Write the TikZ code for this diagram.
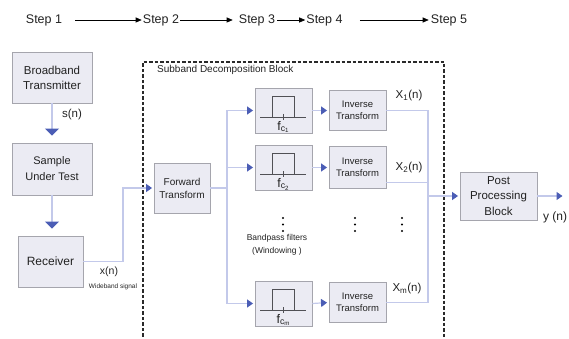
\documentclass[tikz,border=0pt]{standalone}
\usepackage{fontspec}
\setmainfont{Liberation Sans}
\usetikzlibrary{arrows.meta}
\definecolor{boxfill}{HTML}{EBEBF3}
\definecolor{boxdraw}{HTML}{A5A5AD}
\definecolor{connc}{HTML}{C3C9EA}
\definecolor{tipblue}{HTML}{4B5DB5}
\definecolor{dashc}{HTML}{2A2A2A}
\definecolor{symc}{HTML}{505055}
\definecolor{txtc}{HTML}{222222}
\tikzset{
  blk/.style={draw=boxdraw, fill=boxfill, line width=0.9pt, align=center, inner sep=0pt, text=txtc},
  conn/.style={draw=connc, line width=1.2pt},
  tipS/.style={-{Triangle[width=8pt,length=6pt,color=tipblue]}, shorten >=1.5pt},
  tipL/.style={-{Triangle[width=14pt,length=7pt,color=tipblue]}, shorten >=7pt},
  steparrow/.style={draw=black, line width=0.6pt, -{Triangle[width=5pt,length=6pt]}},
  steptxt/.style={inner sep=0pt, font=\fontsize{12.5}{15}\selectfont, text=txtc},
  lbl/.style={inner sep=0pt, text=txtc},
  flbl/.style={inner sep=0pt, text=txtc, font=\fontsize{12.5}{13}\selectfont},
  filt/.pic={
    \draw[symc, line width=0.8pt] (-23.5,6.5) -- (22.5,6.5);
    \draw[symc, line width=0.8pt] (-11.5,6.5) -- (-11.5,-14.5) -- (10.5,-14.5) -- (10.5,6.5);
    \draw[symc, line width=0.6pt] (0,3.5) -- (0,9.5);
  }
}
\begin{document}
\begin{tikzpicture}[x=1pt,y=-1pt]
\useasboundingbox (0,0) rectangle (569,339);

% steps
\node[steptxt] (s1) at (44,20) {Step 1};
\node[steptxt] (s2) at (161,20) {Step 2};
\node[steptxt] (s3) at (257,20) {Step 3};
\node[steptxt] (s4) at (324.5,20) {Step 4};
\node[steptxt] (s5) at (449,20) {Step 5};
\draw[steparrow, shorten <=13pt, shorten >=1pt] (s1) -- (s2);
\draw[steparrow, shorten <=1pt, shorten >=6pt] (s2) -- (s3);
\draw[steparrow, shorten <=2pt, shorten >=1pt] (s3) -- (s4);
\draw[steparrow, shorten <=17pt, shorten >=2pt] (s4) -- (s5);

% left column
\node[blk, minimum width=80, minimum height=51, font=\fontsize{11.5}{15}\selectfont] (bt) at (52,77.5) {Broadband\\Transmitter};
\node[blk, minimum width=80, minimum height=52, font=\fontsize{11}{16}\selectfont] (sut) at (52,169) {Sample\\Under Test};
\node[blk, minimum width=65, minimum height=51, font=\fontsize{12}{15}\selectfont] (rx) at (50.5,261.5) {Receiver};
\draw[conn, tipL] (bt) -- (sut);
\draw[conn, tipL] (sut.south) -- (sut.south |- rx.north);
\node[lbl, font=\fontsize{11.5}{14}\selectfont] (sn) at (72,115) {s(n)};

% dashed block
\draw[dashc, line width=1.3pt, dash pattern=on 3.5pt off 2pt] (143,342) -- (143,62) -- (444,62) -- (444,342);
\node[lbl, anchor=west, font=\fontsize{10}{12}\selectfont] (sdb) at (157,70) {Subband Decomposition Block};

% forward transform
\node[blk, minimum width=56, minimum height=50, font=\fontsize{10}{13}\selectfont] (fw) at (182,188) {Forward\\Transform};
\coordinate (bendA) at (123,0);
\draw[conn, tipS] (rx.east) -- (rx.east -| bendA) -- (bendA |- fw.west) -- (fw.west);
\node[lbl, font=\fontsize{10.5}{13}\selectfont] (xn) at (109,272) {x(n)};
\node[lbl, font=\fontsize{6.5}{8}\selectfont] (wb) at (113,287) {Wideband signal};

% filters
\node[blk, minimum width=57, minimum height=45] (f1) at (283.5,110.5) {};
\node[blk, minimum width=57, minimum height=45] (f2) at (283.5,167.5) {};
\node[blk, minimum width=57, minimum height=45] (fm) at (283.5,303.5) {};
\pic at (f1) {filt};
\pic at (f2) {filt};
\pic at (fm) {filt};
\node[flbl] (l1) at ([yshift=-16.5pt]f1.center) {f\textsubscript{c\textsubscript{1}}};
\node[flbl] (l2) at ([yshift=-16.5pt]f2.center) {f\textsubscript{c\textsubscript{2}}};
\node[flbl] (lm) at ([yshift=-16.5pt]fm.center) {f\textsubscript{c\textsubscript{m}}};

\coordinate (busL) at (227,0);
\draw[conn] (fw.east) -- (fw.east -| busL);
\draw[conn] (busL |- f1.west) -- (busL |- fm.west);
\draw[conn, tipS] (busL |- f1.west) -- (f1.west);
\draw[conn, tipS] (busL |- f2.west) -- (f2.west);
\draw[conn, tipS] (busL |- fm.west) -- (fm.west);

% inverse transforms
\node[blk, minimum width=57, minimum height=40, font=\fontsize{9.5}{12}\selectfont] (i1) at (357.5,110.5) {Inverse\\Transform};
\node[blk, minimum width=57, minimum height=42, font=\fontsize{9.5}{12}\selectfont] (i2) at (357.5,167.5) {Inverse\\Transform};
\node[blk, minimum width=57, minimum height=40, font=\fontsize{9.5}{12}\selectfont] (i3) at (357.5,302.5) {Inverse\\Transform};
\draw[conn, tipS] (f1.east) -- (i1.west);
\draw[conn, tipS] (f2.east) -- (i2.west);
\draw[conn, tipS] (fm.east) -- (i3.west);

% dots
\foreach \xx in {283,355,402}{
  \fill[black] (\xx,218) circle (1.2pt);
  \fill[black] (\xx,224.5) circle (1.2pt);
  \fill[black] (\xx,231) circle (1.2pt);
}
\node[lbl, font=\fontsize{8.5}{10}\selectfont] (bpf) at (277,238) {Bandpass filters};
\node[lbl, font=\fontsize{8.5}{10}\selectfont] (win) at (277,251) {(Windowing )};

% outputs
\coordinate (busR) at (428,0);
\coordinate (o2) at ([yshift=-15pt]i2.east);
\draw[conn] (i1.east) -- (i1.east -| busR);
\draw[conn] (o2) -- (o2 -| busR);
\draw[conn] (i3.east) -- (i3.east -| busR);
\draw[conn] (busR |- i1.east) -- (busR |- i3.east);
\node[lbl, font=\fontsize{11.5}{14}\selectfont] (x1) at (409,96) {X\textsubscript{1}(n)};
\node[lbl, font=\fontsize{11.5}{14}\selectfont] (x2) at (409,168) {X\textsubscript{2}(n)};
\node[lbl, font=\fontsize{11.5}{14}\selectfont] (xm) at (407,289) {X\textsubscript{m}(n)};

% post processing
\node[blk, minimum width=77, minimum height=48, font=\fontsize{11.5}{15.5}\selectfont] (pp) at (498.5,196) {Post\\Processing\\Block};
\draw[conn, tipS] (busR |- pp.west) -- (pp.west);
\coordinate (yout) at (564,196);
\draw[conn, tipS] (pp.east) -- (yout);
\node[lbl, font=\fontsize{12}{14}\selectfont] (yn) at (555,217) {y (n)};
\end{tikzpicture}
\end{document}
